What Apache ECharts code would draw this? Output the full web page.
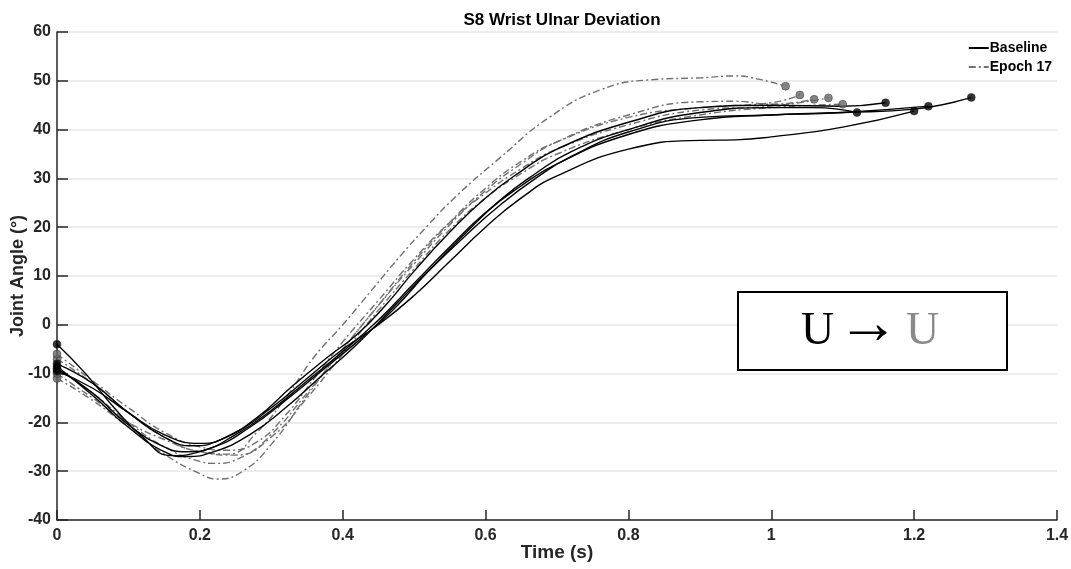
<!DOCTYPE html>
<html>
<head>
<meta charset="utf-8">
<script src="https://cdn.jsdelivr.net/npm/echarts@6/dist/echarts.min.js"></script>
<style>
  html, body { margin: 0; padding: 0; background: #fff; }
  #chart { width: 1071px; height: 569px; }
</style>
</head>
<body>
<div id="chart"></div>
<script>
// Wrist ulnar deviation trials for subject S8: [time (s), joint angle (deg)]
const baseline1 = [[0,-4],[0.04,-10],[0.08,-17],[0.12,-23],[0.16,-26.8],[0.2,-26],[0.25,-22.5],[0.3,-17.5],[0.35,-11.5],[0.4,-5.5],[0.45,1],[0.5,8.5],[0.55,16],[0.6,23],[0.65,28.5],[0.7,33],[0.8,39],[0.9,42],[1.0,43],[1.1,43.5],[1.2,44.2],[1.28,46.6]];
const baseline2 = [[0,-8],[0.05,-12],[0.1,-18],[0.15,-23],[0.19,-24.8],[0.23,-23.5],[0.28,-19],[0.33,-12.5],[0.38,-6.5],[0.42,-2],[0.46,4],[0.5,11],[0.55,19],[0.6,26],[0.65,31.5],[0.7,36],[0.8,41.5],[0.9,44.5],[1.0,45],[1.1,44.8],[1.16,45.5]];
const baseline3 = [[0,-9],[0.05,-14],[0.1,-20.5],[0.15,-25],[0.18,-26],[0.22,-25],[0.27,-21],[0.32,-15.5],[0.37,-9.5],[0.42,-3.5],[0.47,3],[0.52,11],[0.57,18.5],[0.62,25.5],[0.67,31],[0.72,35.5],[0.8,40],[0.9,43.5],[1.0,44.5],[1.06,44.5],[1.12,43.5]];
const baseline4 = [[0,-9.5],[0.05,-13],[0.1,-18],[0.15,-22.5],[0.2,-24.3],[0.25,-22],[0.3,-17],[0.35,-11],[0.4,-5],[0.45,0],[0.5,6],[0.55,13],[0.6,20],[0.65,26],[0.7,30.5],[0.8,36],[0.9,37.8],[0.95,37.9],[1.0,38.5],[1.1,40.5],[1.2,43.8]];
const baseline5 = [[0,-8.5],[0.05,-14.5],[0.1,-21],[0.15,-26],[0.18,-27],[0.22,-26],[0.27,-22.5],[0.32,-17],[0.37,-10.5],[0.42,-4],[0.47,3.5],[0.52,11],[0.57,18],[0.62,24.5],[0.67,30],[0.72,34.5],[0.8,39.5],[0.9,42.5],[1.0,43],[1.1,43.5],[1.22,44.8]];

const epoch1 = [[0,-7],[0.05,-12],[0.1,-18],[0.15,-23],[0.2,-26],[0.24,-26.5],[0.28,-22],[0.32,-15],[0.36,-6.6],[0.4,0],[0.44,7],[0.48,14],[0.52,20.5],[0.56,26.5],[0.62,34.2],[0.69,42.6],[0.76,48.1],[0.83,50.2],[0.9,50.6],[0.95,51],[0.98,50.4],[1.02,48.9]];
const epoch2 = [[0,-11],[0.05,-15.5],[0.1,-21],[0.15,-26.5],[0.2,-30.5],[0.224,-31.6],[0.26,-30],[0.3,-24.5],[0.35,-14.5],[0.4,-5],[0.45,4],[0.5,13],[0.55,21],[0.6,28],[0.65,33.5],[0.7,37.5],[0.8,42.5],[0.9,44.5],[1.0,45.5],[1.04,47.1]];
const epoch3 = [[0,-9],[0.05,-14],[0.1,-20],[0.15,-25],[0.2,-28],[0.22,-28.4],[0.26,-27],[0.3,-22.5],[0.35,-14],[0.4,-5],[0.45,4],[0.5,12.5],[0.55,20.5],[0.6,27.5],[0.65,33],[0.7,37.5],[0.8,43],[0.9,45.7],[0.95,45.8],[1.0,45.2],[1.06,46.2]];
const epoch4 = [[0,-6],[0.05,-11.5],[0.1,-17],[0.15,-22],[0.2,-25],[0.24,-25.7],[0.28,-24],[0.32,-18.5],[0.36,-11],[0.4,-3.5],[0.45,5],[0.5,13.5],[0.55,21],[0.6,27],[0.65,32],[0.7,36],[0.8,41],[0.9,44],[1.0,44.8],[1.08,46.5]];
const epoch5 = [[0,-10],[0.05,-15],[0.1,-20],[0.15,-23.5],[0.2,-26],[0.25,-26.7],[0.3,-23],[0.35,-15],[0.4,-6],[0.45,3],[0.5,11.5],[0.55,19.5],[0.6,26],[0.65,31],[0.7,35],[0.8,40],[0.9,43],[1.0,44.5],[1.1,45.2]];

const baselineTrials = [baseline1, baseline2, baseline3, baseline4, baseline5];
const epochTrials = [epoch1, epoch2, epoch3, epoch4, epoch5];

const xTicks = [0, 0.2, 0.4, 0.6, 0.8, 1, 1.2, 1.4];
const yTicks = [-40, -30, -20, -10, 0, 10, 20, 30, 40, 50, 60];

const BASE_COLOR = '#000000';
const EPOCH_COLOR = '#707070';
const FONT = 'Liberation Sans, Arial, sans-serif';
const SERIF = 'Liberation Serif, DejaVu Serif, serif';

function trialLine(name, data, color, type) {
  return {
    name: name, type: 'line', data: data, smooth: 0.5, symbol: 'none',
    lineStyle: { color: color, width: 1.4, type: type },
    itemStyle: { color: color }, z: name === 'Baseline' ? 3 : 2, animation: false
  };
}

// Filled dots at the first and last sample of every trial
function endDots(trials, color, z) {
  const pts = [];
  trials.forEach(t => { pts.push(t[0]); pts.push(t[t.length - 1]); });
  return {
    type: 'scatter', data: pts, symbol: 'circle', symbolSize: 8,
    itemStyle: { color: color, borderColor: '#222', borderWidth: 0.5 },
    z: z, animation: false, silent: true
  };
}

const series = [];
epochTrials.forEach(t => series.push(trialLine('Epoch 17', t, EPOCH_COLOR, [7, 3, 2, 3])));
baselineTrials.forEach(t => series.push(trialLine('Baseline', t, BASE_COLOR, 'solid')));
series.push(endDots(epochTrials, '#666666', 4));
series.push(endDots(baselineTrials, '#000000', 5));

const serifText = (x, y, text, color, size) => ({
  type: 'text', z: 101, x: x, y: y,
  style: { text: text, align: 'left', verticalAlign: 'middle', fontFamily: SERIF, fontSize: size, fill: color }
});

const chart = echarts.init(document.getElementById('chart'), null, { renderer: 'canvas' });
chart.setOption({
  backgroundColor: '#ffffff',
  animation: false,
  title: {
    text: 'S8 Wrist Ulnar Deviation', left: 557, top: 7, textAlign: 'center',
    textStyle: { fontFamily: FONT, fontSize: 17, fontWeight: 'bold', color: '#000' }
  },
  legend: {
    data: ['Baseline', 'Epoch 17'], orient: 'vertical', right: 14, top: 36,
    itemWidth: 20, itemHeight: 12, itemGap: 5,
    itemStyle: { opacity: 0 },
    textStyle: { fontFamily: FONT, fontSize: 14, fontWeight: 'bold', color: '#000', padding: [0, 0, 0, -4] },
    selectedMode: false, z: 20
  },
  grid: { left: 57, right: 14, top: 32, bottom: 49, containLabel: false, outerBoundsMode: 'none' },
  xAxis: {
    type: 'value', min: 0, max: 1.4, interval: 0.2,
    name: 'Time (s)', nameLocation: 'middle', nameGap: 23, nameMoveOverlap: false,
    nameTextStyle: { fontFamily: FONT, fontSize: 19, fontWeight: 'bold', color: '#262626' },
    axisLine: { show: true, onZero: false, lineStyle: { color: '#262626', width: 1.5 } },
    axisTick: { show: true, inside: true, length: 10, lineStyle: { color: '#262626', width: 1.5 } },
    axisLabel: {
      fontFamily: FONT, fontSize: 16, fontWeight: 'bold', color: '#262626', margin: 8,
      formatter: v => { const i = xTicks.findIndex(x => Math.abs(x - v) < 1e-9); return i >= 0 ? String(xTicks[i]) : ''; }
    },
    splitLine: { show: false }
  },
  yAxis: {
    type: 'value', min: -40, max: 60, interval: 10,
    name: 'Joint Angle (°)', nameLocation: 'middle', nameGap: 30, nameRotate: 90, nameMoveOverlap: false,
    nameTextStyle: { fontFamily: FONT, fontSize: 18, fontWeight: 'bold', color: '#262626' },
    axisLine: { show: true, onZero: false, lineStyle: { color: '#262626', width: 1.5 } },
    axisTick: { show: true, inside: true, length: 11, lineStyle: { color: '#262626', width: 1.5 } },
    axisLabel: {
      fontFamily: FONT, fontSize: 16, fontWeight: 'bold', color: '#262626', margin: 6,
      formatter: v => (yTicks.indexOf(v) >= 0 ? String(v) : '')
    },
    splitLine: { show: true, lineStyle: { color: '#e6e6e6', width: 1.5 } }
  },
  graphic: [{
    type: 'group', left: 737, top: 291, z: 100,
    children: [
      { type: 'rect', z: 100, shape: { x: 0, y: 0, width: 269, height: 78 },
        style: { fill: '#fff', stroke: '#000', lineWidth: 2 } },
      serifText(63, 40, 'U', '#000', 46),
      serifText(99, 35, '→', '#000', 62),
      serifText(168, 40, 'U', '#8a8a8a', 46)
    ]
  }],
  series: series
});
</script>
</body>
</html>
